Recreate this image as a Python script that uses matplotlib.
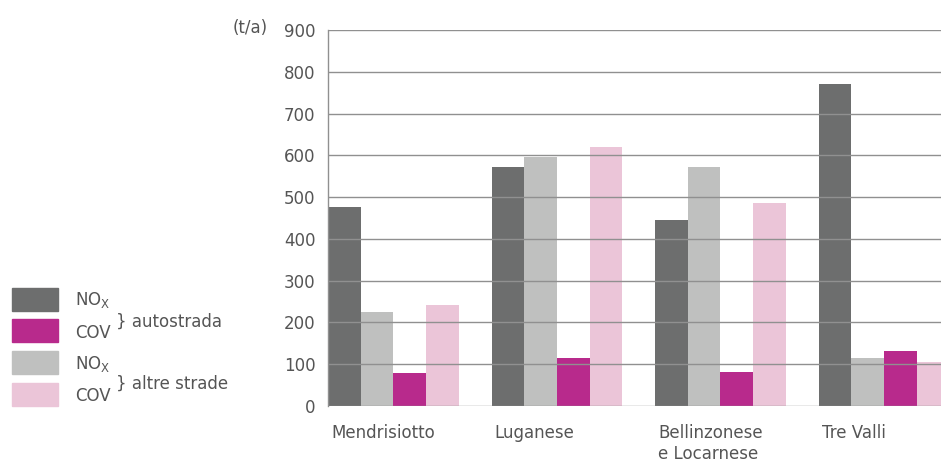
import matplotlib
matplotlib.use("Agg")
import numpy as np
import matplotlib.pyplot as plt
from matplotlib.patches import Rectangle

plt.rcParams['font.family'] = ['DejaVu Sans']

# data (t/a)
regions = ['Mendrisiotto', 'Luganese', 'Bellinzonese\ne Locarnese', 'Tre Valli']
nox_autostrada = [476, 572, 446, 771]
nox_altre = [226, 595, 571, 114]
cov_autostrada = [80, 114, 82, 132]
cov_altre = [242, 621, 487, 106]
yticks = [0, 100, 200, 300, 400, 500, 600, 700, 800, 900]

c_nox_auto = '#6d6e6e'
c_nox_altre = '#bfc0bf'
c_cov_auto = '#b82a8c'
c_cov_altre = '#ebc5d8'
txt = '#555555'
grid = '#909090'
fs = 12

W, H = 941, 465
fig = plt.figure(figsize=(W / 100, H / 100), dpi=100)
ax = fig.add_axes([328 / W, 1 - 406 / H, 1 - 328 / W, (406 - 30) / H])

x0 = np.arange(len(regions)) * 5
series = [(nox_autostrada, c_nox_auto), (nox_altre, c_nox_altre),
          (cov_autostrada, c_cov_auto), (cov_altre, c_cov_altre)]
for k, (vals, col) in enumerate(series):
    ax.bar(x0 + k + 0.5, vals, width=1.0, color=col, zorder=1, linewidth=0)

for v in yticks:
    ax.axhline(v, color=grid, lw=1.0, zorder=3)

ax.set_xlim(0, (W - 328) / 32.7)
ax.set_ylim(0, 900)
ax.set_yticks(yticks)
ax.set_yticklabels([str(v) for v in yticks], fontsize=fs, color=txt)
ax.tick_params(axis='y', length=0, pad=9)
ax.set_xticks(x0 + 0.1)
ax.set_xticklabels(regions, fontsize=fs, color=txt, ha='left', va='top', linespacing=1.2)
ax.tick_params(axis='x', length=0, pad=13)
for s in ['top', 'right', 'bottom']:
    ax.spines[s].set_visible(False)
ax.spines['left'].set_color(grid)
ax.spines['left'].set_linewidth(1.0)

fig.text(268 / W, 1 - 28 / H, '(t/a)', fontsize=fs, color=txt, ha='right', va='center')

# legend drawn by hand
boxes = [(288, c_nox_auto), (319, c_cov_auto), (351, c_nox_altre), (383, c_cov_altre)]
for y, col in boxes:
    fig.patches.append(Rectangle((12 / W, 1 - (y + 23) / H), 46 / W, 23 / H,
                                 transform=fig.transFigure, color=col))
for y, s in [(300, 'NO$_\\mathregular{X}$'), (333, 'COV'), (364, 'NO$_\\mathregular{X}$'), (396, 'COV')]:
    fig.text(75 / W, 1 - y / H, s, fontsize=fs, color=txt, ha='left', va='center')
fig.text(116 / W, 1 - 322 / H, '} autostrada', fontsize=fs, color=txt, ha='left', va='center')
fig.text(116 / W, 1 - 384 / H, '} altre strade', fontsize=fs, color=txt, ha='left', va='center')

fig.savefig('out.png', dpi=100)
